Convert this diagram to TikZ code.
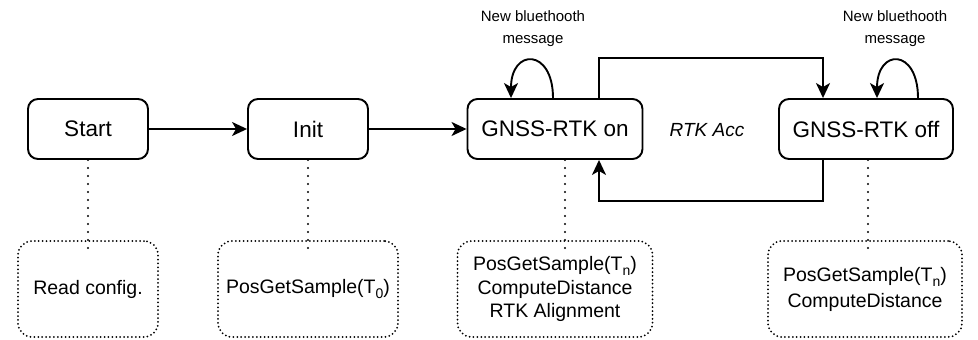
\documentclass[tikz,border=0pt]{standalone}
\usepackage{fontspec}
\setmainfont{Liberation Sans}
\usetikzlibrary{arrows.meta}
\newcommand{\mysub}[1]{\raisebox{-5pt}{\fontsize{14}{14}\selectfont #1}}
\begin{document}
\begin{tikzpicture}[x=1pt,y=-1pt,
  state/.style={draw,line width=1.9pt,rounded corners=10pt,minimum height=60pt,inner sep=0pt,font=\fontsize{22.5}{26}\selectfont},
  note/.style={draw,line width=2pt,line cap=round,dash pattern=on 0pt off 3.9pt,rounded corners=14pt,minimum height=96pt,inner sep=0pt,align=center,font=\fontsize{19.5}{26}\selectfont},
  link/.style={draw,line width=2.3pt,line cap=round,dash pattern=on 0pt off 8pt},
  arr/.style={line width=1.9pt,-{Stealth[length=15pt,width=14pt,inset=4pt]}},
  lbl/.style={align=center,font=\fontsize{15}{22}\selectfont,inner sep=0pt}]
\useasboundingbox (0,0) rectangle (978,340);
% states
\node[state,minimum width=120pt] (start) at (88,129) {Start};
\node[state,minimum width=120pt] (init) at (308,129) {Init};
\node[state,minimum width=175pt] (on) at (555,129) {GNSS-RTK on};
\node[state,minimum width=174pt] (off) at (866,129) {GNSS-RTK off};
% notes
\node[note,minimum width=140pt] (n1) at (88,289) {Read config.};
\node[note,minimum width=180pt] (n2) at (308,289) {PosGetSample(T\mysub{0})};
\node[note,minimum width=195pt] (n3) at (555,289) {PosGetSample(T\mysub{n})\\[-2pt]ComputeDistance\\[-3pt]RTK Alignment};
\node[note,minimum width=194pt] (n4) at (865,289) {PosGetSample(T\mysub{n})\\ComputeDistance};
% labels
\node[lbl] (l1) at (533,29) {New bluethooth\\message};
\node[lbl] (l2) at (895,29) {New bluethooth\\message};
\node[font=\fontsize{19}{22}\selectfont\itshape,inner sep=0pt] (acc) at (707,130) {RTK Acc};
% main arrows
\draw[arr] (start) -- (init);
\draw[arr] (init) -- (on);
\draw[arr] ([xshift=44pt]on.north) -- ++(0,-40) -| ([xshift=-43pt]off.north);
\draw[arr] ([xshift=-43pt]off.south) -- ++(0,41) -| ([xshift=44pt]on.south);
% self loops
\draw[arr] ([xshift=-2pt]on.north) .. controls (553,48) and (511,48) .. ([xshift=-44pt]on.north);
\draw[arr] ([xshift=52pt]off.north) .. controls (918,48) and (877,48) .. ([xshift=11pt]off.north);
% dotted links
\path[link] (start.south) -- ([yshift=-9pt]n1.north);
\path[link] (init.south) -- ([yshift=-9pt]n2.north);
\path[link] ([xshift=10pt]on.south) -- ([xshift=10pt,yshift=-9pt]n3.north);
\path[link] ([xshift=2pt]off.south) -- ([xshift=3pt,yshift=-9pt]n4.north);
\end{tikzpicture}
\end{document}
